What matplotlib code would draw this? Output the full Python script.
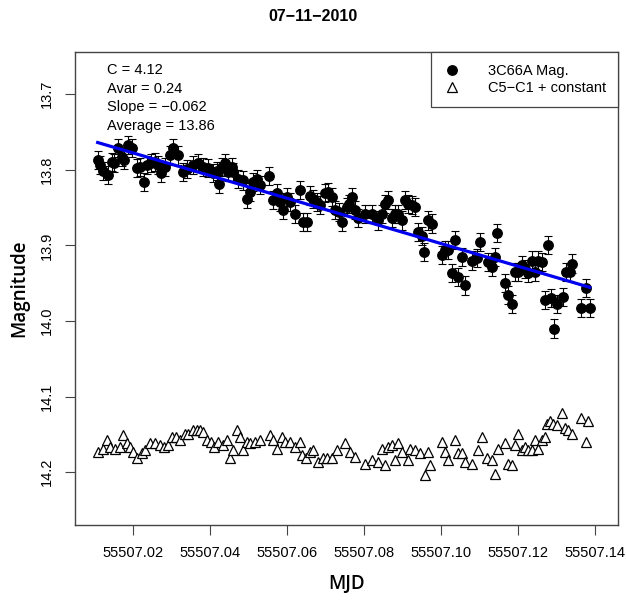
import numpy as np
import matplotlib
matplotlib.use("Agg")
import matplotlib.pyplot as plt
from matplotlib.ticker import FormatStrFormatter

# MJD = 55507 + fraction of day
mjd_base = 55507

# 3C66A magnitudes
blazar_t = [0.0108, 0.0114, 0.0122, 0.0134, 0.0145, 0.0151, 0.0161, 0.0171, 0.0177, 0.0186,
            0.0197, 0.0210, 0.0218, 0.0229, 0.0236, 0.0247, 0.0257, 0.0266, 0.0273, 0.0283,
            0.0296, 0.0305, 0.0318, 0.0331, 0.0339, 0.0357, 0.0370, 0.0383, 0.0396, 0.0409,
            0.0417, 0.0423, 0.0430, 0.0439, 0.0448, 0.0456, 0.0461, 0.0474, 0.0486, 0.0495,
            0.0504, 0.0512, 0.0521, 0.0530, 0.0554, 0.0564, 0.0573, 0.0582, 0.0590, 0.0599,
            0.0608, 0.0621, 0.0634, 0.0642, 0.0651, 0.0660, 0.0668, 0.0677, 0.0686, 0.0699,
            0.0707, 0.0716, 0.0725, 0.0735, 0.0742, 0.0755, 0.0761, 0.0768, 0.0777, 0.0785,
            0.0803, 0.0820, 0.0837, 0.0846, 0.0855, 0.0863, 0.0872, 0.0881, 0.0889, 0.0898,
            0.0906, 0.0915, 0.0924, 0.0932, 0.0941, 0.0950, 0.0957, 0.0967, 0.0976, 0.1002,
            0.1010, 0.1019, 0.1029, 0.1036, 0.1045, 0.1054, 0.1064, 0.1080, 0.1093, 0.1101,
            0.1123, 0.1132, 0.1140, 0.1147, 0.1166, 0.1175, 0.1184, 0.1192, 0.1201, 0.1210,
            0.1218, 0.1227, 0.1236, 0.1244, 0.1253, 0.1262, 0.1270, 0.1279, 0.1286, 0.1294,
            0.1303, 0.1318, 0.1324, 0.1335, 0.1341, 0.1365, 0.1378, 0.1387]
blazar_mag = [13.787, 13.794, 13.801, 13.807, 13.790, 13.791, 13.771, 13.783, 13.787, 13.767,
              13.771, 13.798, 13.796, 13.816, 13.794, 13.791, 13.790, 13.794, 13.804, 13.796,
              13.781, 13.771, 13.781, 13.803, 13.799, 13.794, 13.791, 13.796, 13.798, 13.804,
              13.801, 13.819, 13.796, 13.791, 13.803, 13.796, 13.803, 13.812, 13.814, 13.838,
              13.829, 13.816, 13.812, 13.820, 13.808, 13.840, 13.831, 13.842, 13.853, 13.836,
              13.842, 13.858, 13.827, 13.869, 13.869, 13.834, 13.838, 13.842, 13.847, 13.831,
              13.829, 13.836, 13.853, 13.856, 13.869, 13.849, 13.845, 13.836, 13.853, 13.864,
              13.858, 13.858, 13.867, 13.858, 13.845, 13.840, 13.864, 13.858, 13.858, 13.867,
              13.840, 13.845, 13.847, 13.849, 13.882, 13.887, 13.909, 13.867, 13.871, 13.913,
              13.906, 13.906, 13.937, 13.893, 13.942, 13.915, 13.953, 13.920, 13.917, 13.895,
              13.922, 13.928, 13.915, 13.884, 13.950, 13.966, 13.977, 13.935, 13.935, 13.926,
              13.931, 13.937, 13.920, 13.935, 13.920, 13.922, 13.972, 13.900, 13.970, 14.010,
              13.977, 13.968, 13.935, 13.935, 13.924, 13.983, 13.956, 13.983]
blazar_err = 0.012

# comparison stars C5-C1 + constant
comp_t = [0.0110, 0.0123, 0.0132, 0.0140, 0.0153, 0.0166, 0.0175, 0.0184, 0.0192, 0.0201,
          0.0211, 0.0223, 0.0231, 0.0244, 0.0257, 0.0270, 0.0281, 0.0292, 0.0301, 0.0312,
          0.0322, 0.0335, 0.0344, 0.0357, 0.0365, 0.0374, 0.0383, 0.0391, 0.0402, 0.0410,
          0.0422, 0.0435, 0.0443, 0.0452, 0.0461, 0.0469, 0.0478, 0.0486, 0.0495, 0.0504,
          0.0517, 0.0530, 0.0556, 0.0564, 0.0573, 0.0586, 0.0595, 0.0608, 0.0621, 0.0634,
          0.0638, 0.0649, 0.0660, 0.0668, 0.0681, 0.0694, 0.0705, 0.0716, 0.0729, 0.0751,
          0.0764, 0.0777, 0.0803, 0.0820, 0.0837, 0.0846, 0.0855, 0.0863, 0.0872, 0.0881,
          0.0889, 0.0898, 0.0915, 0.0919, 0.0932, 0.0945, 0.0958, 0.0967, 0.0971, 0.1002,
          0.1010, 0.1019, 0.1036, 0.1045, 0.1054, 0.1062, 0.1080, 0.1097, 0.1106, 0.1119,
          0.1132, 0.1140, 0.1149, 0.1166, 0.1175, 0.1184, 0.1192, 0.1201, 0.1210, 0.1218,
          0.1227, 0.1236, 0.1244, 0.1253, 0.1262, 0.1270, 0.1275, 0.1283, 0.1292, 0.1301,
          0.1314, 0.1322, 0.1331, 0.1340, 0.1365, 0.1378, 0.1382]
comp_mag = [14.173, 14.169, 14.158, 14.167, 14.169, 14.167, 14.151, 14.162, 14.167, 14.173,
            14.182, 14.175, 14.171, 14.162, 14.162, 14.164, 14.167, 14.164, 14.153, 14.153,
            14.158, 14.149, 14.149, 14.144, 14.144, 14.144, 14.147, 14.158, 14.160, 14.167,
            14.160, 14.164, 14.158, 14.182, 14.171, 14.144, 14.153, 14.171, 14.160, 14.162,
            14.160, 14.158, 14.151, 14.158, 14.169, 14.153, 14.160, 14.160, 14.167, 14.160,
            14.178, 14.182, 14.173, 14.171, 14.186, 14.182, 14.182, 14.182, 14.171, 14.162,
            14.173, 14.180, 14.189, 14.184, 14.186, 14.169, 14.191, 14.167, 14.164, 14.184,
            14.162, 14.173, 14.184, 14.169, 14.171, 14.175, 14.204, 14.173, 14.191, 14.160,
            14.173, 14.184, 14.158, 14.175, 14.175, 14.186, 14.189, 14.171, 14.153, 14.182,
            14.184, 14.202, 14.169, 14.162, 14.189, 14.191, 14.164, 14.149, 14.171, 14.167,
            14.171, 14.171, 14.158, 14.169, 14.158, 14.153, 14.136, 14.133, 14.136, 14.138,
            14.122, 14.142, 14.144, 14.149, 14.129, 14.160, 14.133]

stats_lines = ["C = 4.12", "Avar = 0.24", "Slope = \u22120.062", "Average = 13.86"]
x_ticks = [55507.02, 55507.04, 55507.06, 55507.08, 55507.10, 55507.12, 55507.14]
y_ticks = [13.7, 13.8, 13.9, 14.0, 14.1, 14.2]

plt.rcParams['font.family'] = ['Liberation Sans', 'DejaVu Sans']

x1 = mjd_base + np.array(blazar_t)
y1 = np.array(blazar_mag)
x2 = mjd_base + np.array(comp_t)
y2 = np.array(comp_mag)

fig = plt.figure(figsize=(6.26, 6.01), dpi=100)
ax = fig.add_axes([0.120, 0.1265, 0.867, 0.787])

eb = ax.errorbar(x1, y1, yerr=blazar_err, fmt='o', color='black', ms=6.8,
                 elinewidth=0.8, capsize=3, capthick=0.8)
tri, = ax.plot(x2, y2, '^', mfc='white', mec='black', mew=0.9, ms=7.5, linestyle='none')

# linear fit
p = np.polyfit(x1 - mjd_base, y1, 1)
xf = np.array([x1.min(), x1.max()])
ax.plot(xf, np.polyval(p, xf - mjd_base), color='#0000ee', lw=2.3, zorder=5)

ax.set_xlim(mjd_base + 0.00494, mjd_base + 0.1460)
ax.set_ylim(14.270, 13.644)
ax.set_xticks(x_ticks)
ax.set_yticks(y_ticks)
ax.xaxis.set_major_formatter(FormatStrFormatter('%.2f'))
ax.yaxis.set_major_formatter(FormatStrFormatter('%.1f'))
ax.tick_params(axis='both', direction='out', length=7, width=0.8, color='#444444',
               labelsize=10.5, pad=8)
for lab in ax.get_yticklabels():
    lab.set_rotation(90)
    lab.set_va('center')
for s in ax.spines.values():
    s.set_color('#444444')
    s.set_linewidth(1.0)

ax.set_xlabel('MJD', fontsize=13.5, family='Open Sans', fontweight=600, labelpad=10)
ax.set_ylabel('Magnitude', fontsize=13.5, family='Open Sans', fontweight=600, labelpad=8)
fig.suptitle('07\u221211\u22122010', fontsize=11.5, fontweight='bold', y=0.985)

for i, s in enumerate(stats_lines):
    ax.text(0.059, 0.962 - i * 0.0395, s, transform=ax.transAxes, fontsize=10.5,
            va='center', ha='left')

# marker-only legend handles (R style)
h1, = ax.plot([], [], 'o', color='black', ms=6.8)
leg = ax.legend([h1, tri], ['3C66A Mag.', 'C5\u2212C1 + constant'], loc='upper right',
                borderaxespad=0, fancybox=False, fontsize=10.5,
                edgecolor='#444444', framealpha=1, handletextpad=1.8,
                handlelength=1.3, borderpad=0.8, labelspacing=0.25)
leg.get_frame().set_linewidth(0.9)

fig.savefig('out.png', dpi=100)
